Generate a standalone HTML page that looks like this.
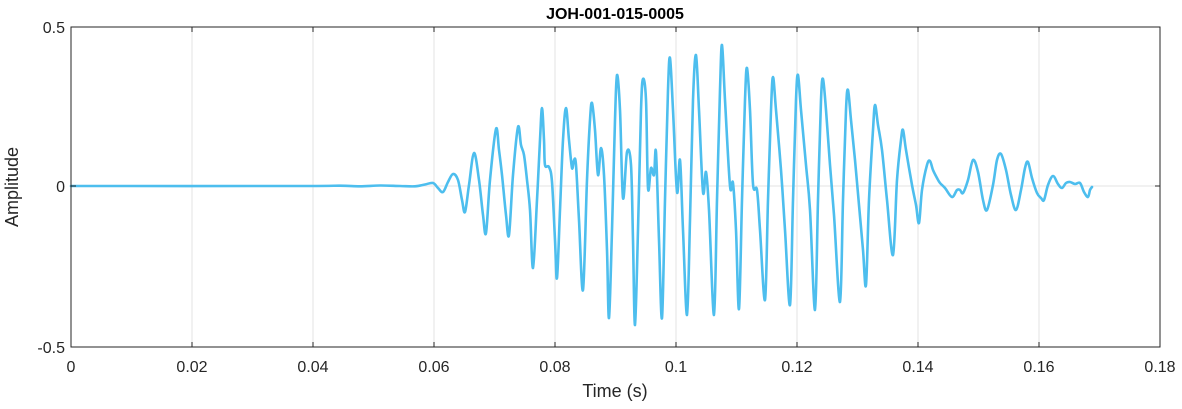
<!DOCTYPE html>
<html><head><meta charset="utf-8"><style>
html,body{margin:0;padding:0;background:#fff;}
svg text{font-family:"Liberation Sans",Arial,sans-serif;}
</style></head><body>
<svg width="1182" height="404" viewBox="0 0 1182 404" xmlns="http://www.w3.org/2000/svg">
<rect width="1182" height="404" fill="#fff"/>
<g stroke="#e3e3e3" stroke-width="1">
<line x1="192" y1="27" x2="192" y2="347"/>
<line x1="313" y1="27" x2="313" y2="347"/>
<line x1="434" y1="27" x2="434" y2="347"/>
<line x1="555" y1="27" x2="555" y2="347"/>
<line x1="676" y1="27" x2="676" y2="347"/>
<line x1="797" y1="27" x2="797" y2="347"/>
<line x1="918" y1="27" x2="918" y2="347"/>
<line x1="1039" y1="27" x2="1039" y2="347"/>
<line x1="71" y1="186" x2="1160" y2="186"/>
</g>
<polyline id="wave" fill="none" stroke="#4DBEEE" stroke-width="2.6" stroke-linejoin="round" stroke-linecap="round" points="
71,186 300,186 340,185.7 360,186.3 380,185.5 400,186 415,186.3 425,184.5 433,183 438,188 443,192 448,182 453,174 458,180 462,200 465,212 469,185 474,153 479,180 483,215 486,233 490,180 496,129 499,150 502,175 506,215 509,235 513,175 518,127 521,145 524,155 527,180 530,210 533,268 537,200 540,140 542,108 544,140 545,165 549,167 552,182 555,240 557,278 560,210 563,140 566,108 569,140 572,168 574,160 576,165 579,220 583,290 587,180 590,120 592,103 595,130 598,175 601,148 604,175 607,250 609,318 612,230 615,120 617,75 620,110 623,198 627,152 631,165 633,240 635,325 638,230 641,110 643,79 646,100 648,188 651,168 654,175 656,152 659,240 662,318 665,200 668,90 670,58 673,110 677,192 680,160 683,230 687,315 690,220 693,100 696,55 699,110 703,192 706,172 709,210 714,315 717,200 720,90 722,45 725,100 730,186 733,183 736,230 739,309 742,200 745,100 747,68 750,110 753,184 757,190 760,230 765,300 768,200 771,110 773,77 776,110 781,170 785,230 790,305 793,200 796,100 798,75 801,110 806,165 810,210 815,310 818,200 821,100 823,79 826,110 830,165 834,215 840,302 843,200 846,110 848,90 851,120 855,160 859,205 863,250 866,285 869,200 873,130 875,105 878,125 882,150 887,200 893,255 897,180 901,140 903,130 906,150 912,185 916,205 919,223 922,190 927,165 930,161 933,170 937,178 940,183 945,188 952,197 957,190 960,190 963,193 968,180 973,160 978,172 983,200 987,210 993,185 997,160 1001,154 1006,170 1011,195 1016,210 1021,190 1025,168 1028,162 1032,178 1037,193 1041,198 1044,200 1048,185 1053,176 1058,184 1062,188 1066,183 1070,182 1075,184 1080,183 1084,192 1088,197 1090,190 1092,187"/>
<path id="smooth" fill="none" stroke="#4DBEEE" stroke-width="2.6" stroke-linejoin="round" stroke-linecap="round" d=""/>
<rect x="71" y="27" width="1089" height="320" fill="none" stroke="#262626" stroke-width="1"/>
<g stroke="#262626" stroke-width="1">
<line x1="192" y1="27" x2="192" y2="32"/><line x1="192" y1="347" x2="192" y2="342"/>
<line x1="313" y1="27" x2="313" y2="32"/><line x1="313" y1="347" x2="313" y2="342"/>
<line x1="434" y1="27" x2="434" y2="32"/><line x1="434" y1="347" x2="434" y2="342"/>
<line x1="555" y1="27" x2="555" y2="32"/><line x1="555" y1="347" x2="555" y2="342"/>
<line x1="676" y1="27" x2="676" y2="32"/><line x1="676" y1="347" x2="676" y2="342"/>
<line x1="797" y1="27" x2="797" y2="32"/><line x1="797" y1="347" x2="797" y2="342"/>
<line x1="918" y1="27" x2="918" y2="32"/><line x1="918" y1="347" x2="918" y2="342"/>
<line x1="1039" y1="27" x2="1039" y2="32"/><line x1="1039" y1="347" x2="1039" y2="342"/>
<line x1="71" y1="186" x2="76" y2="186"/><line x1="1160" y1="186" x2="1155" y2="186"/>
</g>
<g font-size="16" fill="#262626" text-anchor="middle">
<text x="71" y="372">0</text><text x="192" y="372">0.02</text><text x="313" y="372">0.04</text>
<text x="434" y="372">0.06</text><text x="555" y="372">0.08</text><text x="676" y="372">0.1</text>
<text x="797" y="372">0.12</text><text x="918" y="372">0.14</text><text x="1039" y="372">0.16</text>
<text x="1160" y="372">0.18</text>
<text x="615" y="397" font-size="18">Time (s)</text>
</g>
<g font-size="16" fill="#262626" text-anchor="end">
<text x="65" y="33">0.5</text><text x="65" y="192">0</text><text x="65" y="353">-0.5</text>
</g>
<text x="18" y="187" font-size="18" fill="#262626" text-anchor="middle" transform="rotate(-90 18 187)">Amplitude</text>
<text x="615" y="19" font-size="16" font-weight="bold" fill="#000" text-anchor="middle">JOH-001-015-0005</text>
</svg>
<script>
(function(){
var pl=document.getElementById('wave');
var pts=pl.getAttribute('points').trim().split(/\s+/).map(function(s){var a=s.split(',');return [+a[0],+a[1]];});
var d='M'+pts[0][0]+','+pts[0][1];
for(var i=0;i<pts.length-1;i++){
var p0=pts[i>0?i-1:i],p1=pts[i],p2=pts[i+1],p3=pts[i+2<pts.length?i+2:i+1];
var c1x=p1[0]+(p2[0]-p0[0])/6,c1y=p1[1]+(p2[1]-p0[1])/6;
var c2x=p2[0]-(p3[0]-p1[0])/6,c2y=p2[1]-(p3[1]-p1[1])/6;
c1x=Math.min(Math.max(c1x,p1[0]),p2[0]);c2x=Math.min(Math.max(c2x,p1[0]),p2[0]);
d+=' C'+c1x.toFixed(2)+','+c1y.toFixed(2)+' '+c2x.toFixed(2)+','+c2y.toFixed(2)+' '+p2[0]+','+p2[1];
}
document.getElementById('smooth').setAttribute('d',d);
pl.parentNode.removeChild(pl);
})();
</script>
</body></html>
